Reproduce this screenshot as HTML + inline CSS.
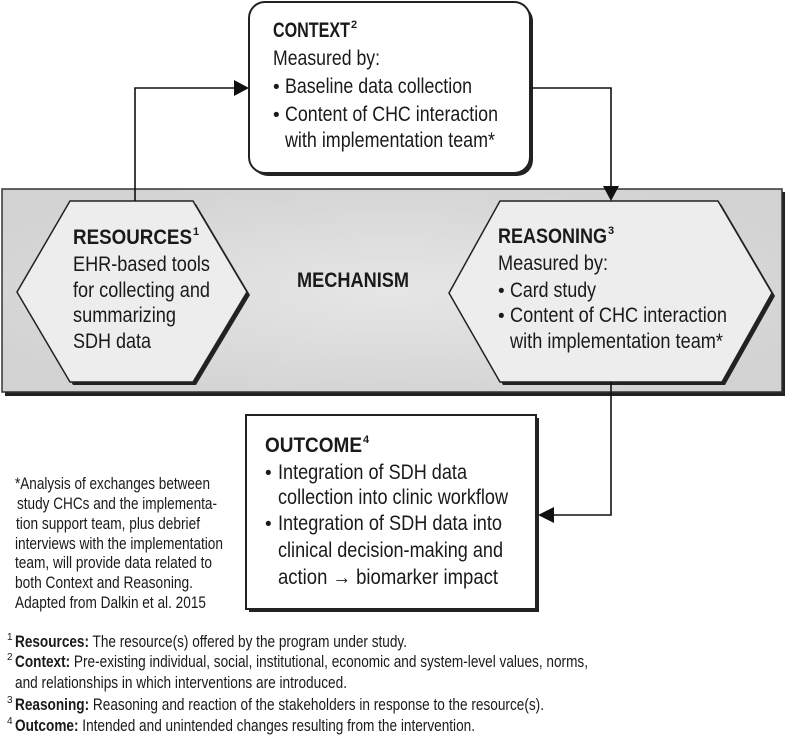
<!DOCTYPE html>
<html><head><meta charset="utf-8"><style>
html,body{margin:0;padding:0;background:#fff;}
svg{display:block;}
text{font-family:"Liberation Sans Narrow","Liberation Sans",sans-serif;fill:#1a1a1a;}
.b{font-weight:bold;}
</style></head><body>
<svg width="787" height="740" viewBox="0 0 787 740" xmlns="http://www.w3.org/2000/svg">
<defs>
<radialGradient id="bg" cx="50%" cy="50%" r="60%">
<stop offset="0" stop-color="#e6e6e6"/><stop offset="1" stop-color="#d2d2d2"/>
</radialGradient>
</defs>
<rect x="5" y="192" width="780" height="204" fill="#222"/>
<rect x="2" y="189" width="780" height="203" fill="url(#bg)" stroke="#333" stroke-width="1.5"/>
<polygon points="73,204 196,204 250,295 196,385 73,385 20,295" fill="#222"/>
<polygon points="70,201 193,201 247,292 193,382 70,382 17,292" fill="#ededed" stroke="#222" stroke-width="1.5"/>
<polygon points="503,204 721,204 775,296 725,385 503,385 452,296" fill="#222"/>
<polygon points="500,201 718,201 772,293 722,382 500,382 449,293" fill="#ededed" stroke="#222" stroke-width="1.5"/>
<rect x="252" y="5" width="281" height="171" rx="16" fill="#222"/>
<rect x="249" y="2" width="281" height="171" rx="16" fill="#fff" stroke="#222" stroke-width="2"/>
<rect x="249" y="418" width="290" height="194" fill="#222"/>
<rect x="246" y="415" width="290" height="194" fill="#fff" stroke="#222" stroke-width="2"/>
<polyline points="135,201 135,88 236,88" fill="none" stroke="#111" stroke-width="1.6"/>
<polygon points="249,88 234,80 234,96" fill="#111"/>
<polyline points="530,88 611,88 611,188" fill="none" stroke="#111" stroke-width="1.6"/>
<polygon points="611,201 603,186 619,186" fill="#111"/>
<polyline points="611,382 611,515 552,515" fill="none" stroke="#111" stroke-width="1.6"/>
<polygon points="538,515 554,507 554,523" fill="#111"/>
<!-- Context text -->
<text x="273" y="37" font-size="21" class="b" textLength="77" lengthAdjust="spacingAndGlyphs">CONTEXT</text>
<text x="351" y="28" font-size="11" class="b">2</text>
<text x="273" y="65" font-size="21" textLength="107" lengthAdjust="spacingAndGlyphs">Measured by:</text>
<text x="273" y="93" font-size="19">•</text>
<text x="285" y="93" font-size="21" textLength="187" lengthAdjust="spacingAndGlyphs">Baseline data collection</text>
<text x="273" y="121" font-size="19">•</text>
<text x="285" y="121" font-size="21" textLength="213" lengthAdjust="spacingAndGlyphs">Content of CHC interaction</text>
<text x="285" y="147" font-size="21" textLength="210" lengthAdjust="spacingAndGlyphs">with implementation team*</text>
<!-- Resources -->
<text x="73" y="244" font-size="21" class="b" textLength="119" lengthAdjust="spacingAndGlyphs">RESOURCES</text>
<text x="193" y="235" font-size="11" class="b">1</text>
<text x="73" y="271" font-size="21" textLength="137" lengthAdjust="spacingAndGlyphs">EHR-based tools</text>
<text x="73" y="297" font-size="21" textLength="137" lengthAdjust="spacingAndGlyphs">for collecting and</text>
<text x="73" y="322" font-size="21" textLength="103" lengthAdjust="spacingAndGlyphs">summarizing</text>
<text x="73" y="348" font-size="21" textLength="78" lengthAdjust="spacingAndGlyphs">SDH data</text>
<text x="297" y="287" font-size="21" class="b" textLength="112" lengthAdjust="spacingAndGlyphs">MECHANISM</text>
<!-- Reasoning -->
<text x="498" y="243" font-size="21" class="b" textLength="109" lengthAdjust="spacingAndGlyphs">REASONING</text>
<text x="608" y="234" font-size="11" class="b">3</text>
<text x="498" y="270" font-size="21" textLength="110" lengthAdjust="spacingAndGlyphs">Measured by:</text>
<text x="498" y="297" font-size="19">•</text>
<text x="510" y="297" font-size="21" textLength="86" lengthAdjust="spacingAndGlyphs">Card study</text>
<text x="498" y="322" font-size="19">•</text>
<text x="510" y="322" font-size="21" textLength="217" lengthAdjust="spacingAndGlyphs">Content of CHC interaction</text>
<text x="510" y="348" font-size="21" textLength="213" lengthAdjust="spacingAndGlyphs">with implementation team*</text>
<!-- Outcome -->
<text x="265" y="452" font-size="21" class="b" textLength="97" lengthAdjust="spacingAndGlyphs">OUTCOME</text>
<text x="363" y="443" font-size="11" class="b">4</text>
<text x="265" y="479" font-size="19">•</text>
<text x="278" y="479" font-size="21" textLength="189" lengthAdjust="spacingAndGlyphs">Integration of SDH data</text>
<text x="278" y="504" font-size="21" textLength="230" lengthAdjust="spacingAndGlyphs">collection into clinic workflow</text>
<text x="265" y="530" font-size="19">•</text>
<text x="278" y="530" font-size="21" textLength="224" lengthAdjust="spacingAndGlyphs">Integration of SDH data into</text>
<text x="278" y="557" font-size="21" textLength="225" lengthAdjust="spacingAndGlyphs">clinical decision-making and</text>
<text x="278" y="584" font-size="21" textLength="220" lengthAdjust="spacingAndGlyphs">action → biomarker impact</text>
<!-- Note -->
<text x="15" y="489" font-size="17" textLength="195" lengthAdjust="spacingAndGlyphs">*Analysis of exchanges between</text>
<text x="17" y="509" font-size="17" textLength="200" lengthAdjust="spacingAndGlyphs">study CHCs and the implementa-</text>
<text x="16" y="529" font-size="17" textLength="184" lengthAdjust="spacingAndGlyphs">tion support team, plus debrief</text>
<text x="15" y="549" font-size="17" textLength="208" lengthAdjust="spacingAndGlyphs">interviews with the implementation</text>
<text x="15" y="568" font-size="17" textLength="197" lengthAdjust="spacingAndGlyphs">team, will provide data related to</text>
<text x="15" y="588" font-size="17" textLength="178" lengthAdjust="spacingAndGlyphs">both Context and Reasoning.</text>
<text x="15" y="608" font-size="17" textLength="191" lengthAdjust="spacingAndGlyphs">Adapted from Dalkin et al. 2015</text>
<!-- Footnotes -->
<text x="7" y="640" font-size="10">1</text>
<text x="15" y="647" font-size="16.5" textLength="392" lengthAdjust="spacingAndGlyphs"><tspan class="b">Resources:</tspan> The resource(s) offered by the program under study.</text>
<text x="7" y="660" font-size="10">2</text>
<text x="15" y="667" font-size="16.5" textLength="573" lengthAdjust="spacingAndGlyphs"><tspan class="b">Context:</tspan> Pre-existing individual, social, institutional, economic and system-level values, norms,</text>
<text x="15" y="688" font-size="16.5" textLength="332" lengthAdjust="spacingAndGlyphs">and relationships in which interventions are introduced.</text>
<text x="7" y="703" font-size="10">3</text>
<text x="15" y="710" font-size="16.5" textLength="529" lengthAdjust="spacingAndGlyphs"><tspan class="b">Reasoning:</tspan> Reasoning and reaction of the stakeholders in response to the resource(s).</text>
<text x="7" y="724" font-size="10">4</text>
<text x="15" y="731" font-size="16.5" textLength="460" lengthAdjust="spacingAndGlyphs"><tspan class="b">Outcome:</tspan> Intended and unintended changes resulting from the intervention.</text>
</svg>
</body></html>
